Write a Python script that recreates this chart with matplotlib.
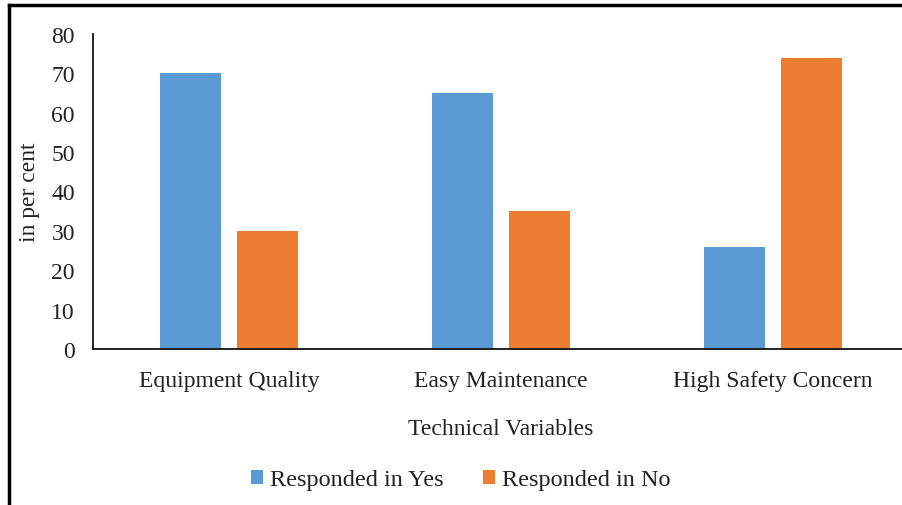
import numpy as np
import matplotlib
matplotlib.use("Agg")
import matplotlib.pyplot as plt
from matplotlib.lines import Line2D

# datos de la encuesta (porcentajes)
categorias = ["Equipment Quality", "Easy Maintenance", "High Safety Concern"]
si = [70, 65, 26]
no = [30, 35, 74]
etiquetas = ["Responded in Yes", "Responded in No"]

plt.rcParams['font.family'] = ['Liberation Serif', 'DejaVu Serif']
fs = 17

fig = plt.figure(figsize=(9.03, 5.06), dpi=100)
W, H = 903, 506
ax = fig.add_axes([93 / W, 1 - 350 / H, 816 / W, 315 / H])

x = np.arange(len(categorias))
ancho = 0.224
ax.bar(x - 0.1415, si, ancho, color="#5B9BD5", label=etiquetas[0])
ax.bar(x + 0.1415, no, ancho, color="#ED7D31", label=etiquetas[1])

ax.set_xlim(-0.5, 2.5)
ax.set_ylim(0, 80)
ax.set_yticks(range(0, 81, 10))
ax.set_xticks(x)
ax.set_xticklabels(categorias)
ax.tick_params(length=0, labelsize=fs, colors="#222222")
ax.tick_params(axis="y", pad=13)
ax.tick_params(axis="x", pad=15)
for s in ["top", "right"]:
    ax.spines[s].set_visible(False)
for s in ["left", "bottom"]:
    ax.spines[s].set_color("#111111")
    ax.spines[s].set_linewidth(1.3)

fig.text(30 / W, 1 - 192 / H, "in per cent", rotation=90, ha="center", va="center",
         fontsize=fs, color="#222222")
fig.text(501 / W, 1 - 430 / H, "Technical Variables", ha="center", va="center",
         fontsize=fs, color="#222222")

fig.legend(loc="center", bbox_to_anchor=(461 / W, 1 - 481 / H), ncol=2, frameon=False,
           fontsize=17.5, handlelength=0.5, handleheight=0.5, handletextpad=0.3,
           columnspacing=1.6, labelcolor="#222222")

# marco
fig.add_artist(Line2D([8.5 / W, 1], [1 - 5.5 / H, 1 - 5.5 / H], color="black", lw=2.5))
fig.add_artist(Line2D([8.5 / W, 8.5 / W], [0, 1 - 5.5 / H], color="black", lw=2.5))

plt.savefig("out.png")
